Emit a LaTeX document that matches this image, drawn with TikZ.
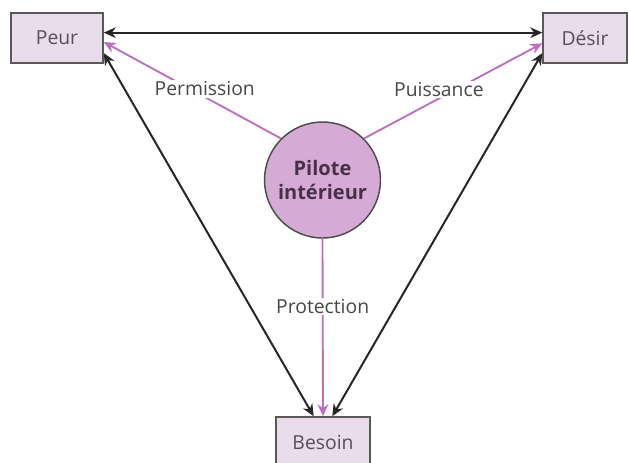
\documentclass[tikz,border=0pt]{standalone}
\usepackage{fontspec}
\setmainfont{Open Sans}
\usetikzlibrary{arrows.meta}

\definecolor{polefill}{HTML}{EADCEA}
\definecolor{pilotfill}{HTML}{D5ABD5}
\definecolor{mauve}{HTML}{BE6EBE}
\definecolor{poletext}{HTML}{564E5C}
\definecolor{pilottext}{HTML}{48304A}

\tikzset{
	pole/.style={shape=rectangle,draw=black!65,fill=polefill,line width=1.1pt,
		minimum height=37.5pt,text=poletext,font=\fontsize{14.5}{17}\selectfont},
	pilot/.style={shape=circle,draw=black!70,fill=pilotfill,line width=1.1pt,
		minimum size=87pt,inner sep=0pt,align=center,text=pilottext,
		font=\fontsize{15}{18}\selectfont\bfseries},
	link/.style={{Stealth[length=9pt,width=8pt]}-{Stealth[length=9pt,width=8pt]},
		line width=1.5pt,draw=black!85},
	drive/.style={-{Stealth[length=9pt,width=8pt]},line width=1.4pt,draw=mauve},
	lbl/.style={fill=white,inner sep=1pt,text=black!72,
		font=\fontsize{14.5}{17}\selectfont}
}

\begin{document}
\begin{tikzpicture}[x=0.75pt,y=-0.75pt]
	\useasboundingbox (0,0) rectangle (628,462);

	\node[pole,minimum width=69pt]   (peur)   at (57, 38)   {Peur};
	\node[pole,minimum width=63pt]   (desir)  at (585, 38)  {Désir};
	\node[pole,minimum width=70.5pt] (besoin) at (323, 442) {Besoin};
	\node[pilot]                     (pilote) at (322.5, 180) {Pilote\\intérieur};

	% the three poles
	\draw[link] ([yshift=4pt]peur.east) -- ([yshift=4pt]desir.west);
	\draw[link] ([yshift=8pt]peur.south east) -- ([xshift=-7pt]besoin.north);
	\draw[link] ([yshift=8pt]desir.south west) -- ([xshift=7pt]besoin.north);

	% from the inner pilot
	\draw[drive] (pilote.135) -- node[lbl,pos=0.43,yshift=6pt]{Permission} ([yshift=-3pt]peur.east);
	\draw[drive] (pilote.45) -- node[lbl,pos=0.42,yshift=7pt]{Puissance} ([yshift=-4pt]desir.west);
	\draw[drive] (pilote.south) -- node[lbl,pos=0.38]{Protection} (besoin.north);

\end{tikzpicture}
\end{document}
